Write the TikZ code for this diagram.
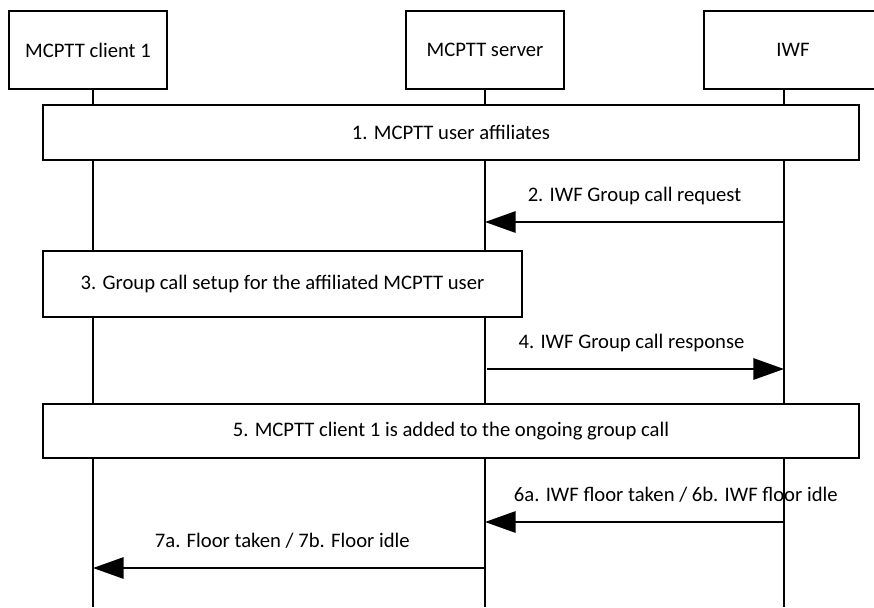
\documentclass[tikz,border=0pt]{standalone}
\usepackage{fontspec}
\setmainfont{Carlito}
\usetikzlibrary{arrows.meta}

\tikzset{
    actor/.style={draw,fill=white,line width=1.5pt,minimum height=58.5pt,inner sep=0pt,font=\fontsize{15.5}{18}\selectfont},
    stepbox/.style={draw,fill=white,line width=1.5pt,inner sep=0pt,font=\fontsize{15.5}{18}\selectfont},
    lifeline/.style={line width=1.5pt},
    msg/.style={line width=1.5pt,-{Triangle[length=23pt,width=16pt]}},
    msglabel/.style={anchor=base,inner sep=0pt,yshift=15.75pt,font=\fontsize{15.5}{18}\selectfont}
}

\begin{document}
\begin{tikzpicture}[x=0.75pt,y=-0.75pt]
        \clip (0,0) rectangle (874,607);
        \coordinate (clTop) at (93,89);
        \coordinate (clEnd) at (93,607);
        \coordinate (svTop) at (485,89);
        \coordinate (svEnd) at (485,607);
        \coordinate (iwTop) at (784,89);
        \coordinate (iwEnd) at (784,607);
        \draw[lifeline] (clTop) -- (clEnd);
        \draw[lifeline] (svTop) -- (svEnd);
        \draw[lifeline] (iwTop) -- (iwEnd);
        \node[actor,minimum width=118.5pt] (client) at (88,50) {MCPTT client 1};
        \node[actor,minimum width=118.5pt] (server) at (485,50) {MCPTT server};
        \node[actor,minimum width=133.5pt] (iwf) at (793,50) {IWF};
        \node[stepbox,minimum width=612pt,minimum height=41.25pt] (affil) at (451,132.5) {1. MCPTT user affiliates};
        \node[stepbox,minimum width=359.25pt,minimum height=49.5pt] (setup) at (282.5,284) {3. Group call setup for the affiliated MCPTT user};
        \node[stepbox,minimum width=612pt,minimum height=40.5pt] (added) at (451,431) {5. MCPTT client 1 is added to the ongoing group call};
        \coordinate (reqFrom) at (784,222);
        \coordinate (reqTo) at (485,222);
        \coordinate (rspFrom) at (487,369);
        \coordinate (rspTo) at (784,369);
        \coordinate (flIwFrom) at (784,522);
        \coordinate (flIwTo) at (485,522);
        \coordinate (flFrom) at (485,568);
        \coordinate (flTo) at (93,568);
        \draw[msg] (reqFrom) -- node[msglabel] (req) {2. IWF Group call request} (reqTo);
        \draw[msg] (rspFrom) -- node[msglabel,xshift=-3pt] (rsp) {4. IWF Group call response} (rspTo);
        \draw[msg] (flIwFrom) -- node[msglabel,xshift=31pt] (flIw) {6a. IWF floor taken / 6b. IWF floor idle} (flIwTo);
        \draw[msg] (flFrom) -- node[msglabel,xshift=-5pt] (fl) {7a. Floor taken / 7b. Floor idle} (flTo);
\end{tikzpicture}
\end{document}
